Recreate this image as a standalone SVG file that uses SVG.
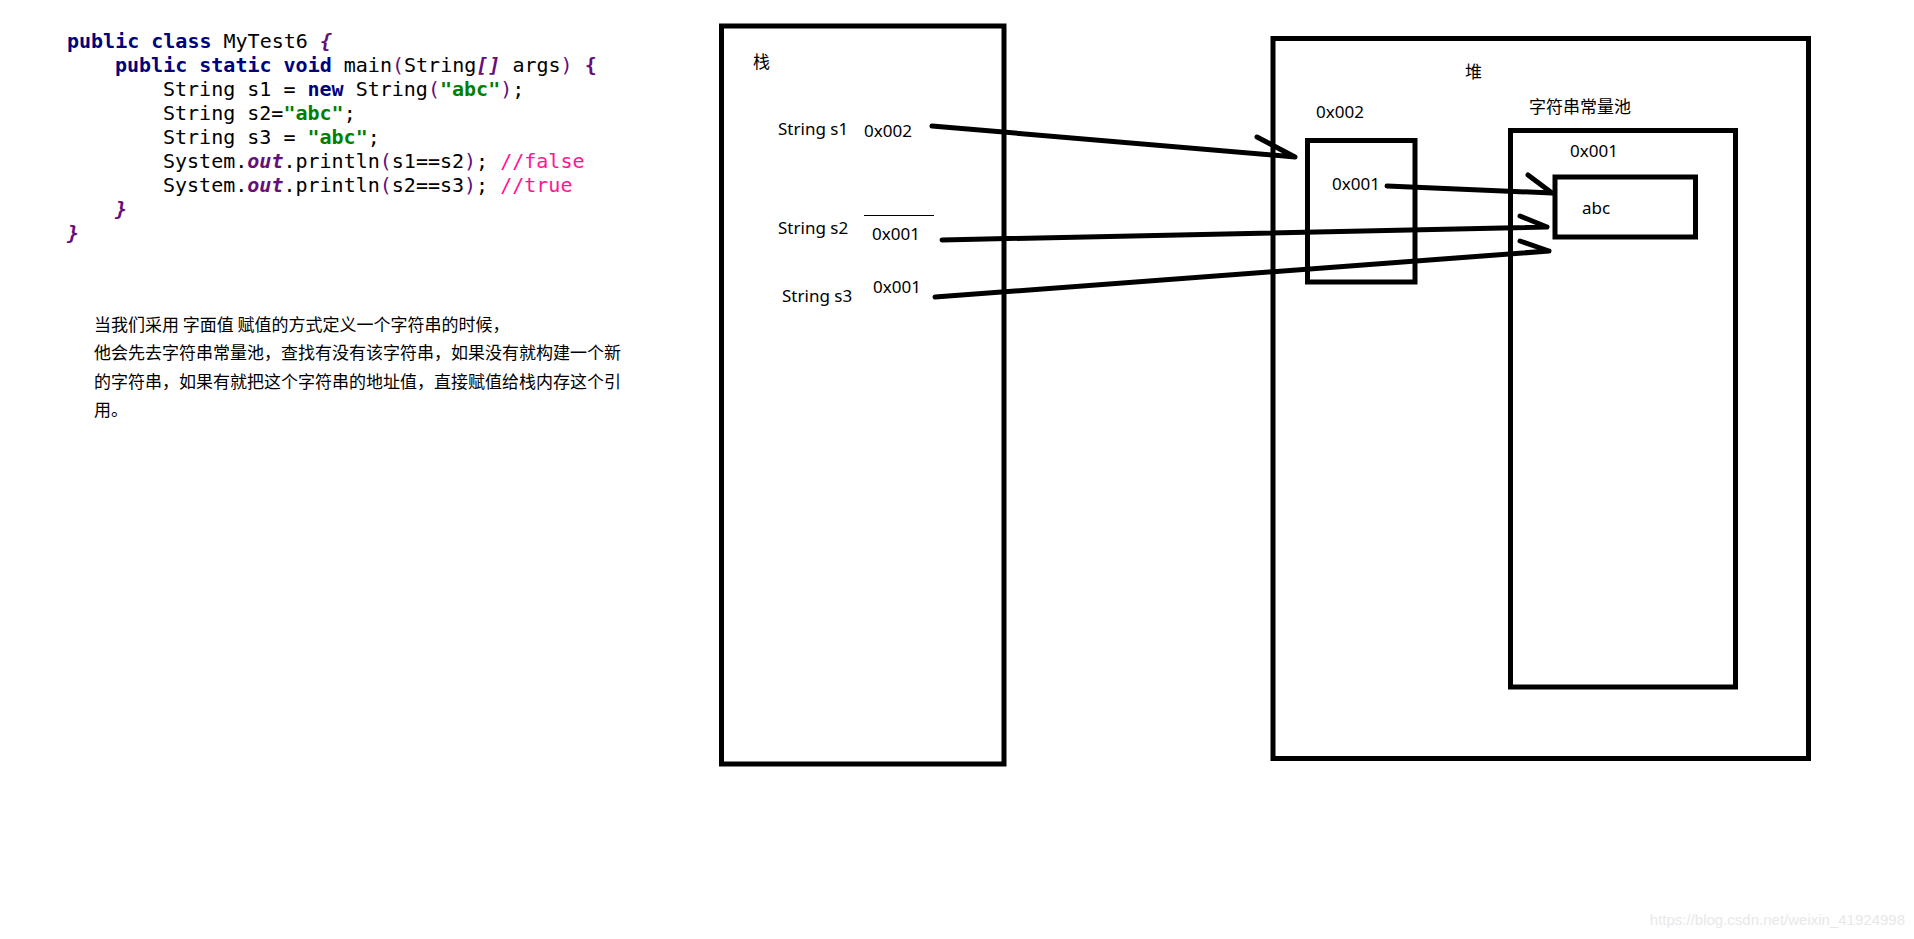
<svg xmlns="http://www.w3.org/2000/svg" width="1914" height="939" viewBox="0 0 1914 939">
<style>
.code{font-family:"DejaVu Sans Mono","Liberation Mono",monospace;font-size:20px;fill:#000;white-space:pre}
.kw{fill:#000080;font-weight:bold}
.str{fill:#008000;font-weight:bold}
.br{fill:#660e7a}
.it{fill:#660e7a;font-style:italic;font-weight:bold}
.cm{fill:#ff1493}
.lbl{font-family:"Noto Sans","Noto Sans CJK SC",sans-serif;font-size:17px;fill:#000}
.para{font-family:"Noto Sans CJK SC","Noto Sans",sans-serif;font-size:17px;fill:#000;white-space:pre}
.box{fill:none;stroke:#000;stroke-width:5}
.conn{fill:none;stroke:#000;stroke-width:5;stroke-linecap:round;stroke-linejoin:round}
.wm{font-family:"Liberation Sans",Arial,sans-serif;font-size:15px;fill:#e8e8e8}
</style>
<rect width="1914" height="939" fill="#fff"/>
<g id="code" class="code">
<text x="67" y="48"><tspan class="kw">public class</tspan> MyTest6 <tspan class="it">{</tspan></text>
<text x="115" y="72"><tspan class="kw">public static void</tspan> main<tspan class="br">(</tspan>String<tspan class="it">[]</tspan> args<tspan class="br">)</tspan> <tspan class="br" font-weight="bold">{</tspan></text>
<text x="163" y="96">String s1 = <tspan class="kw">new</tspan> String<tspan class="br">(</tspan><tspan class="str">"abc"</tspan><tspan class="br">)</tspan>;</text>
<text x="163" y="120">String s2=<tspan class="str">"abc"</tspan>;</text>
<text x="163" y="144">String s3 = <tspan class="str">"abc"</tspan>;</text>
<text x="163" y="168">System.<tspan class="it">out</tspan>.println<tspan class="br">(</tspan>s1==s2<tspan class="br">)</tspan>; <tspan class="cm">//false</tspan></text>
<text x="163" y="192">System.<tspan class="it">out</tspan>.println<tspan class="br">(</tspan>s2==s3<tspan class="br">)</tspan>; <tspan class="cm">//true</tspan></text>
<text x="115" y="216"><tspan class="it">}</tspan></text>
<text x="67" y="240"><tspan class="it">}</tspan></text>
</g>
<g id="description" class="para">
<text x="94" y="331">当我们采用 字面值 赋值的方式定义一个字符串的时候，</text>
<text x="94" y="359">他会先去字符串常量池，查找有没有该字符串，如果没有就构建一个新</text>
<text x="94" y="388">的字符串，如果有就把这个字符串的地址值，直接赋值给栈内存这个引</text>
<text x="94" y="416">用。</text>
</g>
<g id="stack">
<rect class="box" x="721.5" y="26" width="282.5" height="738"/>
<text class="lbl" x="753" y="68">栈</text>
<text class="lbl" x="778" y="135">String s1</text>
<text class="lbl" x="864" y="137">0x002</text>
<text class="lbl" x="778" y="234">String s2</text>
<line x1="864" y1="215.5" x2="934" y2="215.5" stroke="#000" stroke-width="1"/>
<text class="lbl" x="872" y="240">0x001</text>
<text class="lbl" x="782" y="302">String s3</text>
<text class="lbl" x="873" y="293">0x001</text>
</g>
<g id="heap">
<rect class="box" x="1273" y="38.5" width="535.5" height="720"/>
<text class="lbl" x="1465" y="78">堆</text>
</g>
<g id="object-0x002">
<text class="lbl" x="1316" y="118">0x002</text>
<rect class="box" x="1307.5" y="140.5" width="107.5" height="141.5"/>
<text class="lbl" x="1332" y="190">0x001</text>
</g>
<g id="string-pool">
<text class="lbl" x="1529" y="113">字符串常量池</text>
<rect class="box" x="1510.5" y="130.5" width="225" height="556.5"/>
<text class="lbl" x="1570" y="157">0x001</text>
</g>
<g id="abc">
<rect class="box" x="1555" y="177" width="140.5" height="60"/>
<text class="lbl" x="1582" y="214">abc</text>
</g>
<g id="connectors" class="conn">
<path d="M932 126 L1295 157 M1257 137 L1295 157"/>
<path d="M1387 186 L1552 193 M1528 175 L1552 193"/>
<path d="M942 240 L1547 227 M1520 216 L1547 227"/>
<path d="M935 297 L1549 251 M1520 241 L1549 251"/>
</g>
<text class="wm" x="1905" y="925" text-anchor="end">https://blog.csdn.net/weixin_41924998</text>
</svg>
